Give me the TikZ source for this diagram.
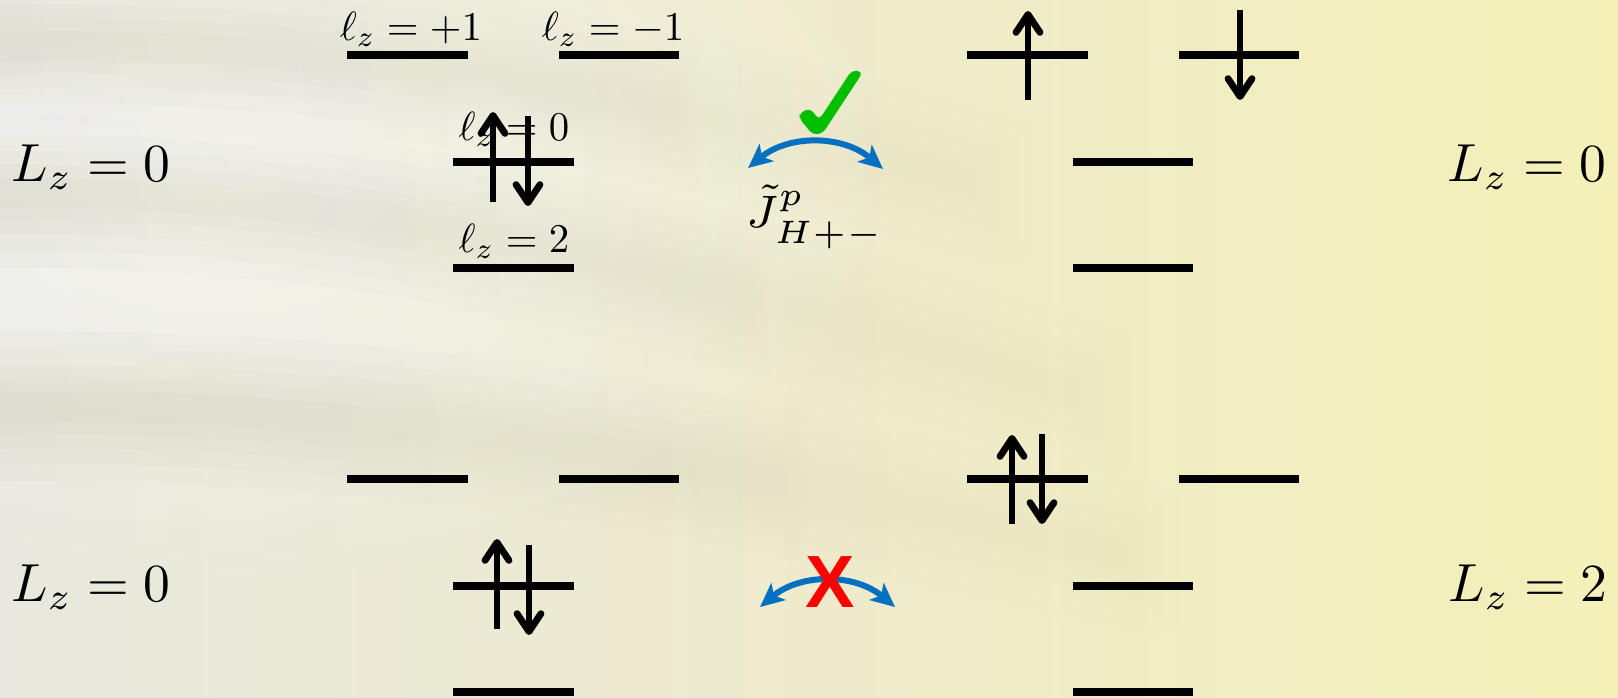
\documentclass[tikz,border=0pt]{standalone}
\usepackage[no-math]{fontspec}
\newfontfamily\libsans{Liberation Sans}
\usetikzlibrary{arrows.meta,fadings}
\tikzfading[name=glowfade, inner color=transparent!0, outer color=transparent!100]
\tikzfading[name=streakfade, left color=transparent!0, right color=transparent!100]
\definecolor{hopblue}{RGB}{0,112,192}
\definecolor{okgreen}{RGB}{0,190,0}
\definecolor{bgleft}{RGB}{232,232,222}
\definecolor{bgmid}{RGB}{238,235,205}
\definecolor{bgright}{RGB}{244,240,184}
\definecolor{streakc}{RGB}{175,175,150}
\tikzset{
  lvl/.style={line width=3.9pt},
  spin/.style={line width=3.4pt,-{Straight Barb[length=9pt,width=12pt,round]}},
  hop/.style={hopblue,line width=3pt,{Stealth[length=12pt,width=11pt,inset=3pt]}-{Stealth[length=12pt,width=11pt,inset=3pt]}},
  ellab/.style={scale=2.04,inner sep=0pt,anchor=base},
  Jlab/.style={font=\fontsize{7}{8}\selectfont,scale=3.25,inner sep=0pt,anchor=base},
  Llab/.style={scale=2.68,inner sep=0pt,anchor=base},
  soft/.style={line cap=round,opacity=0.06,path fading=streakfade},
}
\newcommand\softstroke[2]{%
  \foreach \w in {75,58,42,28,15}{\draw[soft,#1,line width=\w] #2;}}
\begin{document}
\begin{tikzpicture}[x=0.5pt,y=-0.5pt]
\useasboundingbox (0,0) rectangle (1618,697);
\begin{scope}
\clip (0,0) rectangle (1618,697);
% background
\shade[left color=bgleft,right color=bgright,middle color=bgmid] (0,0) rectangle (1618,697);
\fill[white,opacity=0.55,path fading=glowfade] (220,170) ellipse [x radius=700,y radius=420];
\softstroke{streakc}{(-100,50) .. controls (300,30) and (650,90) .. (1000,190)}
\softstroke{streakc}{(-100,195) .. controls (300,180) and (600,240) .. (1100,400)}
\softstroke{streakc}{(-100,410) .. controls (350,390) and (700,460) .. (1150,560)}
\softstroke{white}{(-100,125) .. controls (300,110) and (650,170) .. (1050,280)}
\softstroke{white}{(-100,310) .. controls (300,300) and (650,360) .. (1100,470)}
\end{scope}
% ---- top left
\draw[lvl] (347,55) -- (468,55);
\draw[lvl] (559,55) -- (679,55);
\draw[lvl] (453,162) -- (574,162);
\draw[lvl] (453,268) -- (574,268);
\node[ellab] (lp1) at (411,40) {$\ell_z=+1$};
\node[ellab] (lm1) at (613,40) {$\ell_z=-1$};
\node[ellab] (l0) at (514,140) {$\ell_z=0$};
\node[ellab] (l2) at (514,252) {$\ell_z=2$};
\draw[spin] (493,202) -- (493,112);
\draw[spin] (528,116) -- (528,206);
% ---- top right
\draw[lvl] (967,55) -- (1088,55);
\draw[lvl] (1179,55) -- (1299,55);
\draw[lvl] (1073,162) -- (1193,162);
\draw[lvl] (1073,268) -- (1193,268);
\draw[spin] (1028,100) -- (1028,11);
\draw[spin] (1240,10) -- (1240,100);
% ---- bottom left
\draw[lvl] (347,479) -- (468,479);
\draw[lvl] (559,479) -- (679,479);
\draw[lvl] (453,586) -- (574,586);
\draw[lvl] (453,692) -- (574,692);
\draw[spin] (497,629) -- (497,539);
\draw[spin] (529,545) -- (529,635);
% ---- bottom right
\draw[lvl] (967,479) -- (1088,479);
\draw[lvl] (1179,479) -- (1299,479);
\draw[lvl] (1073,586) -- (1193,586);
\draw[lvl] (1073,692) -- (1193,692);
\draw[spin] (1012,524) -- (1012,435);
\draw[spin] (1042,434) -- (1042,524);
% ---- L labels
\node[Llab] (Ltl) at (91,181) {$L_z=0$};
\node[Llab] (Ltr) at (1527,181) {$L_z=0$};
\node[Llab] (Lbl) at (91,601) {$L_z=0$};
\node[Llab] (Lbr) at (1528,601) {$L_z=2$};
% ---- hopping
\coordinate (ha) at (748,168);
\coordinate (hb) at (883,169);
\draw[hop] (ha) to[bend left=40] (hb);
\fill[okgreen,rounded corners=2.5pt] (800,113) -- (810,108) -- (819,120) -- (852,70)
  -- (863,72) -- (823,133) -- (813,135) -- (799,118) -- cycle;
\node[Jlab] (J) at (815,227) {$\tilde J^{p}_{H+-}$};
\coordinate (hc) at (760,607);
\coordinate (hd) at (895,607);
\draw[hop] (hc) to[bend left=40] (hd);
\node[font=\fontsize{37}{40}\libsans\bfseries,text=red,inner sep=0pt] (no) at (830,582) {X};
\end{tikzpicture}
\end{document}
